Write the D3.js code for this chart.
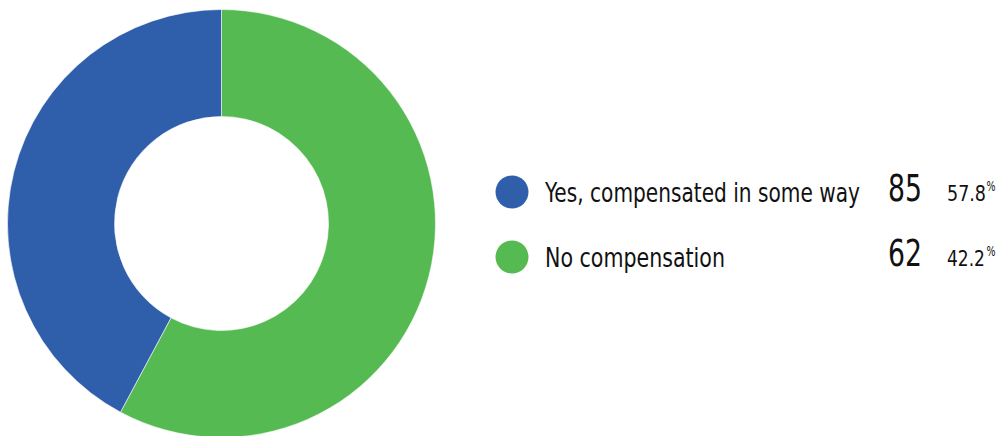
<!DOCTYPE html>
<html>
<head>
<meta charset="utf-8">
<script src="https://cdn.jsdelivr.net/npm/d3@7/dist/d3.min.js"></script>
<style>
  html, body { margin: 0; padding: 0; background: #fff; }
  svg { display: block; }
  text { font-family: "Liberation Sans Narrow", "DejaVu Sans Condensed", "Roboto", sans-serif; fill: #111; }
</style>
</head>
<body>
<svg id="chart" width="998" height="436"></svg>
<script>
const labels = ['Yes, compensated in some way', 'No compensation']
const counts = [85, 62]
const percents = ['57.8', '42.2']
const legendColors = ['#2f5eab', '#56ba52']
// slice colours as drawn in the reference (first slice from 12 o'clock is green)
const sliceColors = ['#56ba52', '#2f5eab']

const svg = d3.select('#chart')
const cx = 221.5, cy = 223.5
const outerR = 214, innerR = 107

const pie = d3.pie().sort(null).value(d => d)
const arc = d3.arc().innerRadius(innerR).outerRadius(outerR)

svg.append('g')
  .attr('transform', `translate(${cx},${cy})`)
  .selectAll('path')
  .data(pie(counts))
  .join('path')
  .attr('d', arc)
  .attr('fill', (d, i) => sliceColors[i])
  .attr('stroke', '#fff')
  .attr('stroke-width', 0.6)

const y = d3.scaleBand().domain(labels).range([159.5, 289.5])
const rows = svg.append('g').selectAll('g')
  .data(labels)
  .join('g')
  .attr('transform', d => `translate(0,${y(d) + y.bandwidth() / 2})`)

rows.append('circle')
  .attr('cx', 512)
  .attr('cy', 0)
  .attr('r', 16.5)
  .attr('fill', (d, i) => legendColors[i])

// squeeze a text horizontally so it spans [x0, x0 + w]
function fit(sel, x0, dy, w) {
  sel.each(function (d, i) {
    const t = d3.select(this)
    const nat = this.getComputedTextLength()
    const ww = typeof w === 'function' ? w(d, i) : w
    t.attr('transform', `translate(${x0},${dy}) scale(${ww / nat},1)`)
  })
}

rows.append('text')
  .attr('font-size', 27)
  .text(d => d)
  .call(fit, 545, 9.5, (d, i) => [315, 180][i])

rows.append('text')
  .attr('font-size', 37)
  .text((d, i) => counts[i])
  .call(fit, 888, 9, 34)

rows.append('text')
  .attr('font-size', 22)
  .text((d, i) => percents[i])
  .call(fit, 947, 9, (d, i) => [39, 38][i])

rows.append('text')
  .attr('font-size', 14)
  .text('%')
  .call(fit, 986.5, -1, 9)
</script>
</body>
</html>
